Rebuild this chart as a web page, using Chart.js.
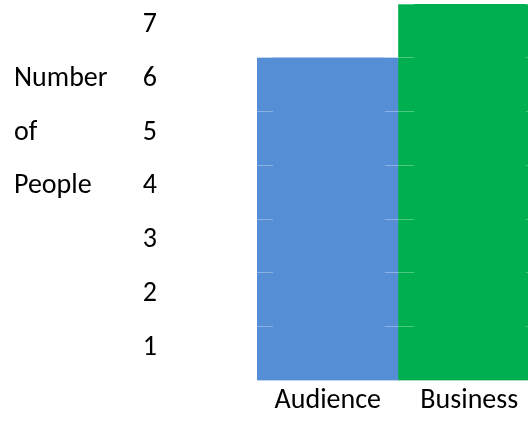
<!DOCTYPE html>
<html><head><meta charset="utf-8">
<script src="https://cdn.jsdelivr.net/npm/chart.js@4"></script>
<style>html,body{margin:0;padding:0;overflow:hidden;background:#fff}#wrap{position:relative;width:540px;height:422px}</style>
</head><body><div id="wrap"><canvas id="c"></canvas></div>
<script>
const categories = ['Audience', 'Business'];
const values = [6, 7];
const barColors = ['#558ED5', '#00B050'];
const yTicks = [1, 2, 3, 4, 5, 6, 7];
const titleLines = ['Number', 'of', 'People'];
const titleAtTicks = [6, 5, 4];

const FONT = 'Carlito, Lato, sans-serif';
const FSIZE = 28;
const LABEL_OFFSET = 21;

const yTitlePlugin = {
  id: 'yTitle',
  afterDraw(chart) {
    const s = chart.scales.y, ctx = chart.ctx;
    ctx.save();
    ctx.font = FSIZE + 'px ' + FONT;
    ctx.fillStyle = '#000';
    ctx.textAlign = 'left';
    ctx.textBaseline = 'middle';
    titleLines.forEach((t, i) => {
      ctx.fillText(t, 14, s.getPixelForValue(titleAtTicks[i]) + LABEL_OFFSET);
    });
    ctx.restore();
  }
};

new Chart(document.getElementById('c'), {
  type: 'bar',
  data: {
    labels: categories,
    datasets: [{ data: values, backgroundColor: barColors, borderWidth: 0, barPercentage: 1, categoryPercentage: 1 }]
  },
  options: {
    responsive: true,
    maintainAspectRatio: false,
    animation: false,
    devicePixelRatio: 1,
    layout: { padding: { top: 4, left: 0, right: 0, bottom: 0 } },
    plugins: { legend: { display: false }, tooltip: { enabled: false } },
    scales: {
      x: {
        grid: { display: false, drawTicks: false },
        border: { display: false },
        ticks: { color: '#000', font: { family: FONT, size: FSIZE }, padding: 4, maxRotation: 0 }
      },
      y: {
        min: 0, max: 7,
        afterFit(s) { s.width = 257; s.paddingTop = 0; s.paddingBottom = 0; },
        afterBuildTicks(s) { s.ticks = yTicks.map(v => ({ value: v })); },
        grid: { z: 1, color: 'rgba(255,255,255,0.3)', lineWidth: 1, drawTicks: false },
        border: { display: false, dash: [29, 112], dashOffset: 13 },
        ticks: { color: '#000', font: { family: FONT, size: FSIZE }, padding: 100, labelOffset: LABEL_OFFSET }
      }
    }
  },
  plugins: [yTitlePlugin]
});
</script>
</body></html>
